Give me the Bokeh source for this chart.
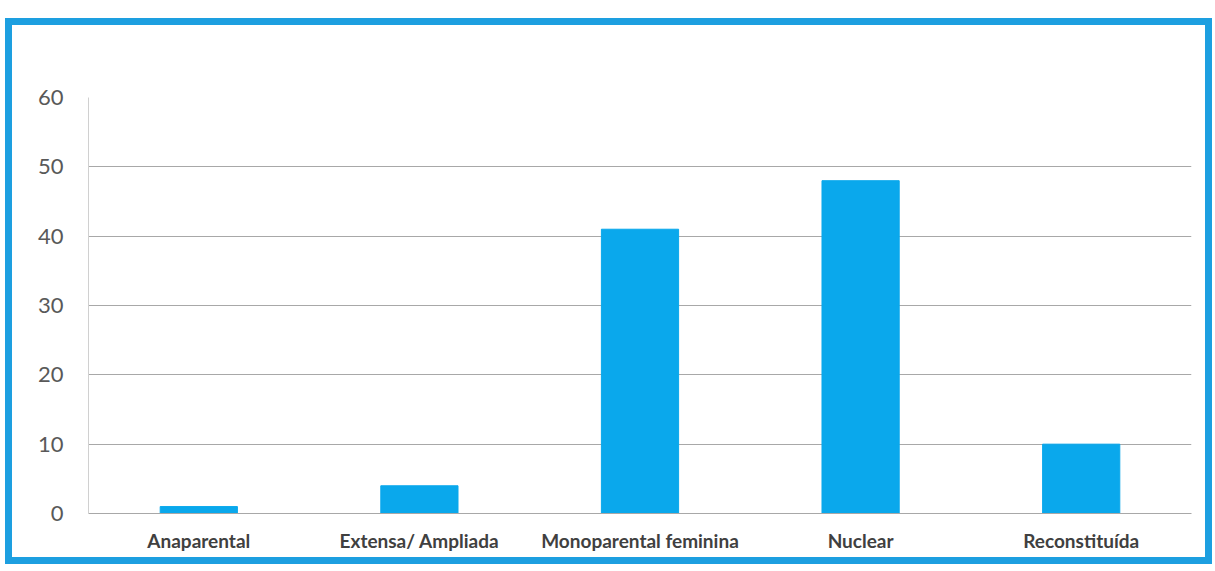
from bokeh.plotting import figure
from bokeh.models import Range1d, FixedTicker
from bokeh.embed import file_html
from bokeh.resources import INLINE

categories = ["Anaparental", "Extensa/ Ampliada", "Monoparental feminina", "Nuclear", "Reconstituída"]
values = [1, 4, 41, 48, 10]
y_ticks = [0, 10, 20, 30, 40, 50, 60]

p = figure(x_range=categories, y_range=Range1d(0, 60), width=1193, height=532,
           output_backend="svg", toolbar_location=None,
           min_border_left=76, min_border_right=28, min_border_top=72, min_border_bottom=58)
p.styles = {"border": "7px solid #1D9FE0", "box-sizing": "content-box",
            "margin-top": "18px", "margin-left": "5px"}

p.vbar(x=categories, top=values, width=0.35, color="#0AA8EC")

p.yaxis.ticker = FixedTicker(ticks=y_ticks)
p.yaxis.major_label_text_font = "Lato"
p.yaxis.major_label_text_font_size = "22px"
p.yaxis.major_label_text_color = "#595959"
p.yaxis.major_tick_line_color = None
p.yaxis.minor_tick_line_color = None
p.yaxis.axis_line_color = "#D0D0D0"
p.yaxis.major_label_standoff = 19

p.xaxis.major_label_text_font = "Lato"
p.xaxis.major_label_text_font_style = "bold"
p.xaxis.major_label_text_font_size = "19px"
p.xaxis.major_label_text_color = "#404040"
p.xaxis.major_tick_line_color = None
p.xaxis.axis_line_color = "#A8A8A8"
p.xaxis.major_label_standoff = 9

p.xgrid.grid_line_color = None
p.ygrid.grid_line_color = "#A8A8A8"
p.outline_line_color = None
p.x_range.range_padding = 0

open("out.html", "w").write(file_html(p, INLINE))
